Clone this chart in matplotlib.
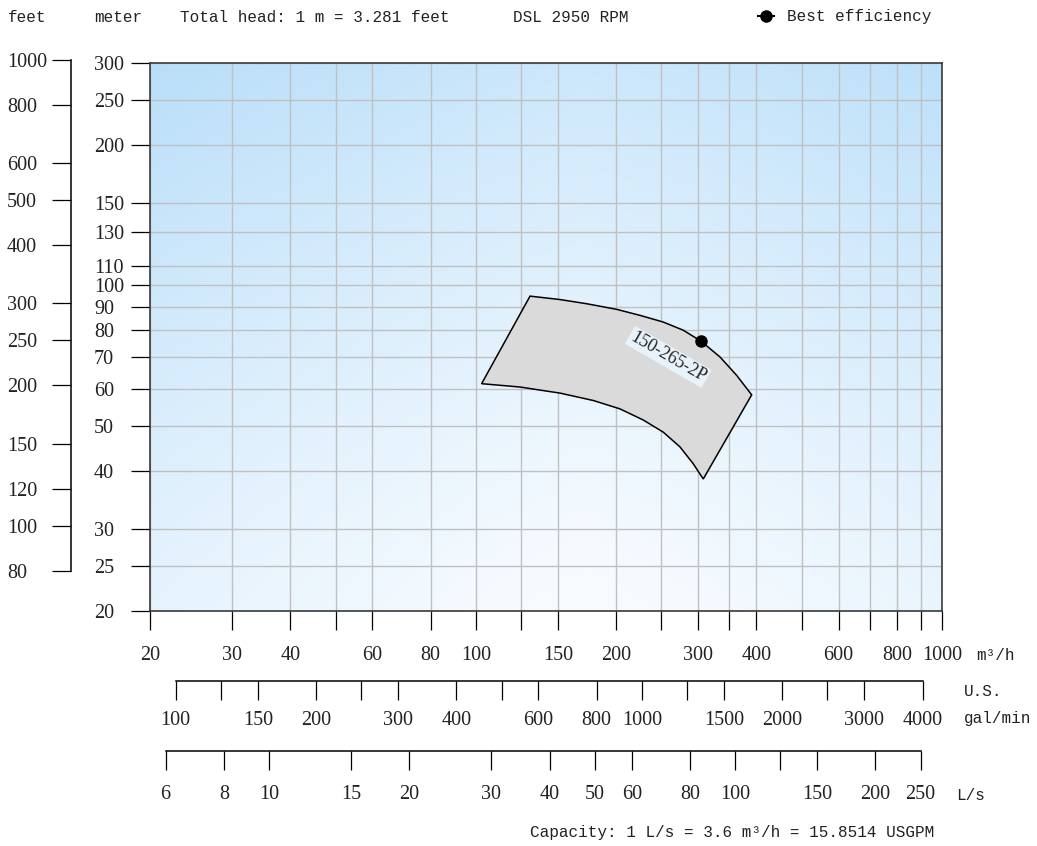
import numpy as np
import matplotlib.pyplot as plt
from matplotlib.ticker import NullLocator

W, H = 1037, 846
M_TO_FT = 3.281
LS_TO_M3H = 3.6
GPM_TO_M3H = 3.6 / 15.8514

# tick values of the scales
q_ticks = [20, 30, 40, 50, 60, 80, 100, 125, 150, 200, 250, 300, 350, 400,
           500, 600, 700, 800, 900, 1000]
q_labels = [20, 30, 40, 60, 80, 100, 150, 200, 300, 400, 600, 800, 1000]
h_ticks = [20, 25, 30, 40, 50, 60, 70, 80, 90, 100, 110, 130, 150, 200, 250, 300]
ft_ticks = [80, 100, 120, 150, 200, 250, 300, 400, 500, 600, 800, 1000]
gpm_ticks = [100, 125, 150, 200, 250, 300, 400, 500, 600, 800, 1000, 1250,
             1500, 2000, 2500, 3000, 4000]
gpm_labels = [100, 150, 200, 300, 400, 600, 800, 1000, 1500, 2000, 3000, 4000]
ls_ticks = [6, 8, 10, 15, 20, 30, 40, 50, 60, 80, 100, 125, 150, 200, 250]
ls_labels = [6, 8, 10, 15, 20, 30, 40, 50, 60, 80, 100, 150, 200, 250]

# operating range of 150-265-2P (m3/h, m)
top_q = [130.7, 151.6, 172.9, 200.5, 225.0, 252.4, 278.6, 304.0, 333.9, 362.6, 390.6]
top_h = [94.8, 93.2, 91.3, 88.8, 86.2, 83.4, 80.1, 75.9, 70.2, 64.1, 58.2]
bot_q = [102.9, 124.3, 151.6, 178.6, 203.8, 228.6, 252.4, 274.1, 292.7, 307.5]
bot_h = [61.5, 60.5, 58.7, 56.6, 54.3, 51.4, 48.4, 45.0, 41.4, 38.4]
bep_q, bep_h = 304.0, 75.9
model = "150-265-2P"
label_q, label_h = 258.7, 70.2

plt.rcParams['font.family'] = ['Liberation Serif', 'DejaVu Serif']
MONO = ['Liberation Mono', 'DejaVu Sans Mono']
TXT = '#222222'
PT = 72 / 100  # points per pixel
NUM = 14.5


def rect(x0, y0, x1, y1):
    return [x0 / W, 1 - y1 / H, (x1 - x0) / W, (y1 - y0) / H]


def ftext(x, y, s, **kw):
    fig.text(x / W, 1 - y / H, s, family=MONO, fontsize=11.5, color=TXT,
             va='center', **kw)


fig = plt.figure(figsize=(W / 100, H / 100), dpi=100)

# gradient background
bg = fig.add_axes(rect(150, 63, 942, 611))
gx, gy = np.meshgrid(np.linspace(0, 1, 200), np.linspace(0, 1, 200))
t = np.clip(0.7 * gy ** 1.2 + 0.3 * (np.abs(gx - 0.55) / 0.55) ** 1.2, 0, 1)
c0 = np.array([0.975, 0.988, 1.0])
c1 = np.array([0.725, 0.872, 0.978])
img = c0 + (c1 - c0) * t[..., None]
bg.imshow(img, origin='lower', extent=[0, 1, 0, 1], aspect='auto')
bg.set_axis_off()

# main chart
ax = fig.add_axes(rect(150, 63, 942, 611))
ax.set_facecolor('none')
ax.set_xscale('log')
ax.set_yscale('log')
ax.set_xlim(20, 1000)
ax.set_ylim(20, 300)
ax.set_xticks(q_ticks, [str(v) if v in q_labels else '' for v in q_ticks])
ax.set_yticks(h_ticks, [str(v) for v in h_ticks])
ax.xaxis.set_minor_locator(NullLocator())
ax.yaxis.set_minor_locator(NullLocator())
ax.set_axisbelow(True)
ax.grid(True, color='#c0c0c0', lw=1.0)
ax.tick_params(axis='both', length=19 * PT, width=0.9, color='black',
               labelsize=NUM, labelcolor=TXT)
ax.tick_params(axis='x', pad=16 * PT)
ax.tick_params(axis='y', pad=37 * PT)
for lab in ax.get_yticklabels():
    lab.set_horizontalalignment('left')
for s in ax.spines.values():
    s.set_color('#3a3a3a')
    s.set_linewidth(1.2)

xs = np.concatenate([top_q, bot_q[::-1]])
ys = np.concatenate([top_h, bot_h[::-1]])
ax.fill(xs, ys, facecolor='#dadada', edgecolor='black', lw=1.1, zorder=3)
bep, = ax.plot([bep_q], [bep_h], marker='o', ls='-', color='black', ms=8,
               zorder=5, label='Best efficiency')
ax.text(label_q, label_h, model, rotation=-30, ha='center', va='center',
        fontsize=13, color=TXT, zorder=4,
        bbox=dict(boxstyle='square,pad=0.1', facecolor='#eaf5ff',
                  edgecolor='none', alpha=0.9))

# feet scale
ppd = 548 / np.log10(300 / 20)
ft_top_px = 40
axf = fig.add_axes(rect(150, ft_top_px, 942, 611))
axf.set_facecolor('none')
axf.set_yscale('log')
axf.set_ylim(20 * M_TO_FT, 20 * M_TO_FT * 10 ** ((611 - ft_top_px) / ppd))
axf.set_yticks(ft_ticks, [str(v) for v in ft_ticks])
axf.yaxis.set_minor_locator(NullLocator())
axf.set_xticks([])
for k in ['top', 'right', 'bottom']:
    axf.spines[k].set_visible(False)
axf.spines['left'].set_position(('axes', (71 - 150) / 792))
axf.spines['left'].set_bounds(80, 1000)
axf.spines['left'].set_linewidth(1.1)
axf.tick_params(axis='y', length=19 * PT, width=0.9, labelsize=NUM,
                labelcolor=TXT, pad=45 * PT)
for lab in axf.get_yticklabels():
    lab.set_horizontalalignment('left')


def flow_scale(y_px, factor, ticks, labels, lo, hi, pad_px):
    a = fig.add_axes(rect(150, y_px - 10, 942, y_px))
    a.set_facecolor('none')
    a.set_xscale('log')
    a.set_xlim(20 / factor, 1000 / factor)
    a.set_xticks(ticks, [str(v) if v in labels else '' for v in ticks])
    a.xaxis.set_minor_locator(NullLocator())
    a.set_yticks([])
    for k in ['top', 'right', 'left']:
        a.spines[k].set_visible(False)
    a.spines['bottom'].set_bounds(lo, hi)
    a.spines['bottom'].set_linewidth(1.1)
    a.tick_params(axis='x', length=19 * PT, width=0.9, labelsize=NUM,
                  labelcolor=TXT, pad=pad_px * PT)
    return a


flow_scale(681, GPM_TO_M3H, gpm_ticks, gpm_labels, 100, 4000, 11)
flow_scale(751, LS_TO_M3H, ls_ticks, ls_labels, 6, 250, 15)

# header and unit texts
ftext(8, 17, 'feet')
ftext(94, 17, 'meter')
ftext(180, 17, 'Total head: 1 m = 3.281 feet')
ftext(513, 17, 'DSL 2950 RPM')
ftext(976, 655, 'm³/h')
ftext(964, 692, 'U.S.')
ftext(964, 719, 'gal/min')
ftext(956, 795, 'L/s')
ftext(530, 832, 'Capacity: 1 L/s = 3.6 m³/h = 15.8514 USGPM')

fig.legend(handles=[bep], loc='center left', bbox_to_anchor=(758 / W, 1 - 17 / H),
           frameon=False, handlelength=1.0, handletextpad=0.8, borderpad=0,
           borderaxespad=0, prop=dict(family=MONO, size=11.5), labelcolor=TXT)

fig.savefig('out.png', dpi=100)
